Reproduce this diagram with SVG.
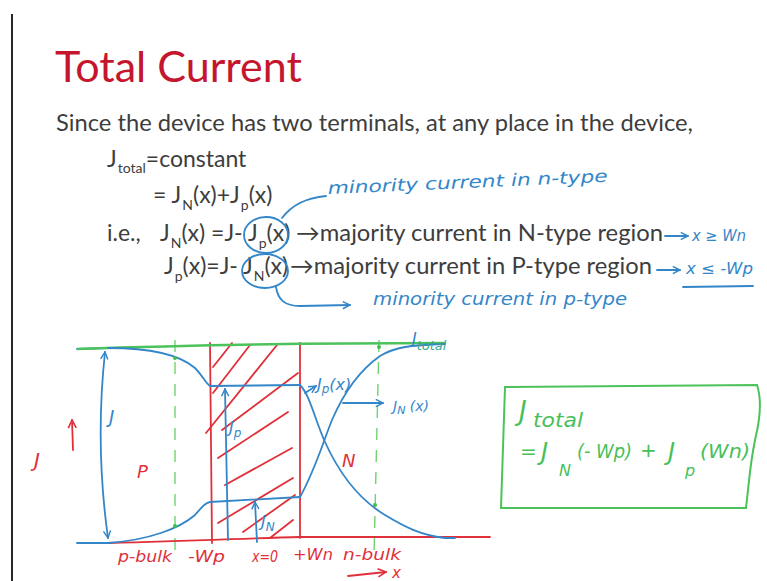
<svg xmlns="http://www.w3.org/2000/svg" width="767" height="581" viewBox="0 0 767 581">
  <style>
    .slide { font-family: Lato, "Open Sans", "DejaVu Sans", sans-serif; fill: #3d3d3d; }
    .title { font-family: Lato, "Open Sans", sans-serif; fill: #c5162e; }
    .sub { font-size: 14px; }
    .hand { font-family: "DejaVu Sans", "Liberation Sans", sans-serif; font-style: italic; }
    .hb { fill: #3386c8; }
    .hr { fill: #e0303a; }
    .hg { fill: #48c05a; }
    .sb { stroke: #3386c8; fill: none; stroke-width: 1.8; stroke-linecap: round; stroke-linejoin: round; }
    .sr { stroke: #e0303a; fill: none; stroke-width: 1.8; stroke-linecap: round; }
    .sg { stroke: #4cc25a; fill: none; stroke-width: 2; stroke-linecap: round; }
  </style>
  <defs>
    <marker id="ab" viewBox="0 0 10 10" refX="9" refY="5" markerWidth="9" markerHeight="9" markerUnits="userSpaceOnUse" orient="auto-start-reverse">
      <path d="M1,1 L9,5 L1,9" fill="none" stroke="#3386c8" stroke-width="1.6"/>
    </marker>
    <marker id="ar" viewBox="0 0 10 10" refX="9" refY="5" markerWidth="10" markerHeight="10" markerUnits="userSpaceOnUse" orient="auto">
      <path d="M1,1 L9,5 L1,9" fill="none" stroke="#e0303a" stroke-width="1.6"/>
    </marker>
  </defs>

  <rect width="767" height="581" fill="#ffffff"/>
  <line x1="12" y1="14" x2="12" y2="581" stroke="#262626" stroke-width="2"/>

  <!-- slide text -->
  <g id="title">
    <text class="title" x="55" y="82" font-size="43" textLength="247" lengthAdjust="spacingAndGlyphs">Total Current</text>
  </g>
  <g id="statement" class="slide" font-size="23">
    <text x="56" y="131" textLength="637" lengthAdjust="spacingAndGlyphs">Since the device has two terminals, at any place in the device,</text>
    <text y="167"><tspan x="107">J</tspan><tspan class="sub" dx="1" y="173">total</tspan><tspan y="167">=constant</tspan></text>
    <text x="153" y="203">= J<tspan class="sub" dx="1" y="210">N</tspan><tspan y="203">(x)+J</tspan><tspan class="sub" dx="1" y="210">p</tspan><tspan y="203">(x)</tspan></text>
    <text y="241"><tspan x="107">i.e.,</tspan><tspan x="160">J</tspan><tspan class="sub" dx="1" y="248">N</tspan><tspan y="241">(x) =J-</tspan><tspan x="248">J</tspan><tspan class="sub" dx="1" y="248">p</tspan><tspan y="241">(x)</tspan><tspan x="296" textLength="367" lengthAdjust="spacingAndGlyphs">→majority current in N-type region</tspan></text>
    <text y="274"><tspan x="164">J</tspan><tspan class="sub" dx="1" y="281">p</tspan><tspan y="274">(x)=J-</tspan><tspan x="243">J</tspan><tspan class="sub" dx="1" y="281">N</tspan><tspan y="274">(x)</tspan><tspan x="290" textLength="362" lengthAdjust="spacingAndGlyphs">→majority current in P-type region</tspan></text>
  </g>

  <!-- hand-written notes on the equations -->
  <g id="notes">
    <ellipse class="sb" cx="266" cy="235" rx="22" ry="18"/>
    <ellipse class="sb" cx="265" cy="271" rx="23" ry="17"/>
    <path class="sb" d="M282,218 C292,205 305,198 326,196"/>
    <text class="hand hb" x="328" y="194" font-size="17" textLength="280" lengthAdjust="spacingAndGlyphs" transform="rotate(-2.5 328 194)">minority current in n-type</text>
    <path class="sb" d="M276,287 C278,300 285,306 300,306 L350,305" marker-end="url(#ab)"/>
    <text class="hand hb" x="373" y="305" font-size="17" textLength="254" lengthAdjust="spacingAndGlyphs">minority current in p-type</text>
    <path class="sb" d="M665,236 L688,236" marker-end="url(#ab)"/>
    <text class="hand hb" x="692" y="241" font-size="15" textLength="54" lengthAdjust="spacingAndGlyphs">x ≥ Wn</text>
    <path class="sb" d="M657,270 L680,270" marker-end="url(#ab)"/>
    <text class="hand hb" x="686" y="274" font-size="15" textLength="67" lengthAdjust="spacingAndGlyphs">x ≤ -Wp</text>
    <path class="sb" d="M683,287 L753,286"/>
  </g>

  <!-- current profile sketch -->
  <g id="region-bounds">
    <path d="M175,340 L175,556" stroke="#6fd36f" stroke-width="1.4" stroke-dasharray="12 10" fill="none"/>
    <path d="M379,340 L374,556" stroke="#6fd36f" stroke-width="1.4" stroke-dasharray="12 10" fill="none"/>
    <path class="sr" d="M210,343 L212,543"/>
    <path class="sr" d="M300,343 L300,538"/>
  </g>
  <g id="depletion-hatch" class="sr">
    <path d="M213,367 L232,343"/>
    <path d="M213,393 L250,345"/>
    <path d="M206,433 L277,345"/>
    <path d="M222,430 L298,373"/>
    <path d="M218,458 L288,412"/>
    <path d="M225,485 L292,448"/>
    <path d="M218,523 L293,478"/>
    <path d="M243,532 L295,495"/>
    <path d="M270,538 L293,520"/>
  </g>
  <g id="axes">
    <path class="sb" d="M77,349 L108,348"/>
    <path d="M77,349 Q250,343 445,343" stroke="#4cc25a" stroke-width="2.5" fill="none"/>
    <path class="sb" d="M77,543 L110,543"/>
    <path class="sr" d="M108,543 C200,541 250,538 300,537 L490,537"/>
  </g>
  <g id="current-curves" class="sb">
    <path d="M108,348 C150,348 180,355 195,368 C203,376 206,384 210,386 L300,385"/>
    <path d="M108,543 C150,540 180,528 195,515 C202,507 205,503 210,502 L300,497"/>
    <path d="M300,385 C310,395 315,420 325,442 C340,475 360,500 385,515 C405,527 420,535 445,538 L455,538"/>
    <path d="M300,497 C315,470 322,445 332,420 C345,390 360,370 380,356 C395,347 410,345 445,344"/>
  </g>
  <g id="markers-green" fill="#3fbf4f">
    <circle cx="175" cy="358" r="2"/>
    <circle cx="175" cy="526" r="2"/>
    <circle cx="379" cy="347" r="2"/>
    <circle cx="375" cy="505" r="2"/>
  </g>
  <g id="connectors">
    <path class="sb" d="M105,352 Q95,445 108,538" marker-start="url(#ab)" marker-end="url(#ab)"/>
    <path class="sb" d="M228,540 L225,389" marker-end="url(#ab)"/>
    <path class="sb" d="M257,542 L255,502" marker-end="url(#ab)"/>
    <path class="sb" d="M305,393 L316,386" marker-end="url(#ab)"/>
    <path class="sb" d="M343,403 L383,403" marker-end="url(#ab)"/>
    <path class="sr" d="M73,450 L72,420" marker-end="url(#ar)"/>
    <path class="sr" d="M348,576 L386,572" marker-end="url(#ar)"/>
  </g>
  <g id="sketch-labels" class="hand">
    <text class="hb" x="109" y="423" font-size="18">J</text>
    <text class="hb" x="229" y="433" font-size="16">J<tspan font-size="12" dy="4">p</tspan></text>
    <text class="hb" x="261" y="527" font-size="16">J<tspan font-size="12" dy="4">N</tspan></text>
    <text class="hb" x="317" y="390" font-size="16">J<tspan font-size="12" dy="3">p</tspan><tspan dy="-3">(x)</tspan></text>
    <text class="hb" x="393" y="411" font-size="14">J<tspan font-size="11" dy="3">N</tspan><tspan dy="-3"> (x)</tspan></text>
    <text class="hb" x="412" y="344" font-size="16">J<tspan font-size="13" dy="6" fill="#3aa58a">total</tspan></text>
    <text class="hr" x="34" y="467" font-size="20">J</text>
    <text class="hr" x="137" y="478" font-size="18">P</text>
    <text class="hr" x="342" y="467" font-size="18">N</text>
    <text class="hr" x="118" y="562" font-size="15" textLength="54" lengthAdjust="spacingAndGlyphs">p-bulk</text>
    <text class="hr" x="188" y="562" font-size="15" textLength="37" lengthAdjust="spacingAndGlyphs">-Wp</text>
    <text class="hr" x="252" y="562" font-size="15" textLength="26" lengthAdjust="spacingAndGlyphs">x=0</text>
    <text class="hr" x="293" y="560" font-size="15" textLength="40" lengthAdjust="spacingAndGlyphs">+Wn</text>
    <text class="hr" x="343" y="560" font-size="15" textLength="58" lengthAdjust="spacingAndGlyphs">n-bulk</text>
    <text class="hr" x="392" y="578" font-size="15">x</text>
  </g>

  <!-- boxed result -->
  <g id="total-box">
    <path class="sg" d="M505,387 L757,385 C762,400 760,420 755,440 C752,455 750,470 748,490 L746,508 L501,508 Z"/>
    <g class="hand hg">
      <text x="519" y="420" font-size="26">J</text>
      <text x="533" y="427" font-size="20" textLength="50" lengthAdjust="spacingAndGlyphs">total</text>
      <text x="520" y="458" font-size="20">=</text>
      <text x="541" y="460" font-size="24">J</text>
      <text x="559" y="476" font-size="16">N</text>
      <text x="577" y="458" font-size="20" textLength="55" lengthAdjust="spacingAndGlyphs">(- Wp)</text>
      <text x="640" y="457" font-size="20">+</text>
      <text x="668" y="460" font-size="24">J</text>
      <text x="685" y="476" font-size="16">p</text>
      <text x="700" y="458" font-size="20" textLength="50" lengthAdjust="spacingAndGlyphs">(Wn)</text>
    </g>
  </g>
</svg>
